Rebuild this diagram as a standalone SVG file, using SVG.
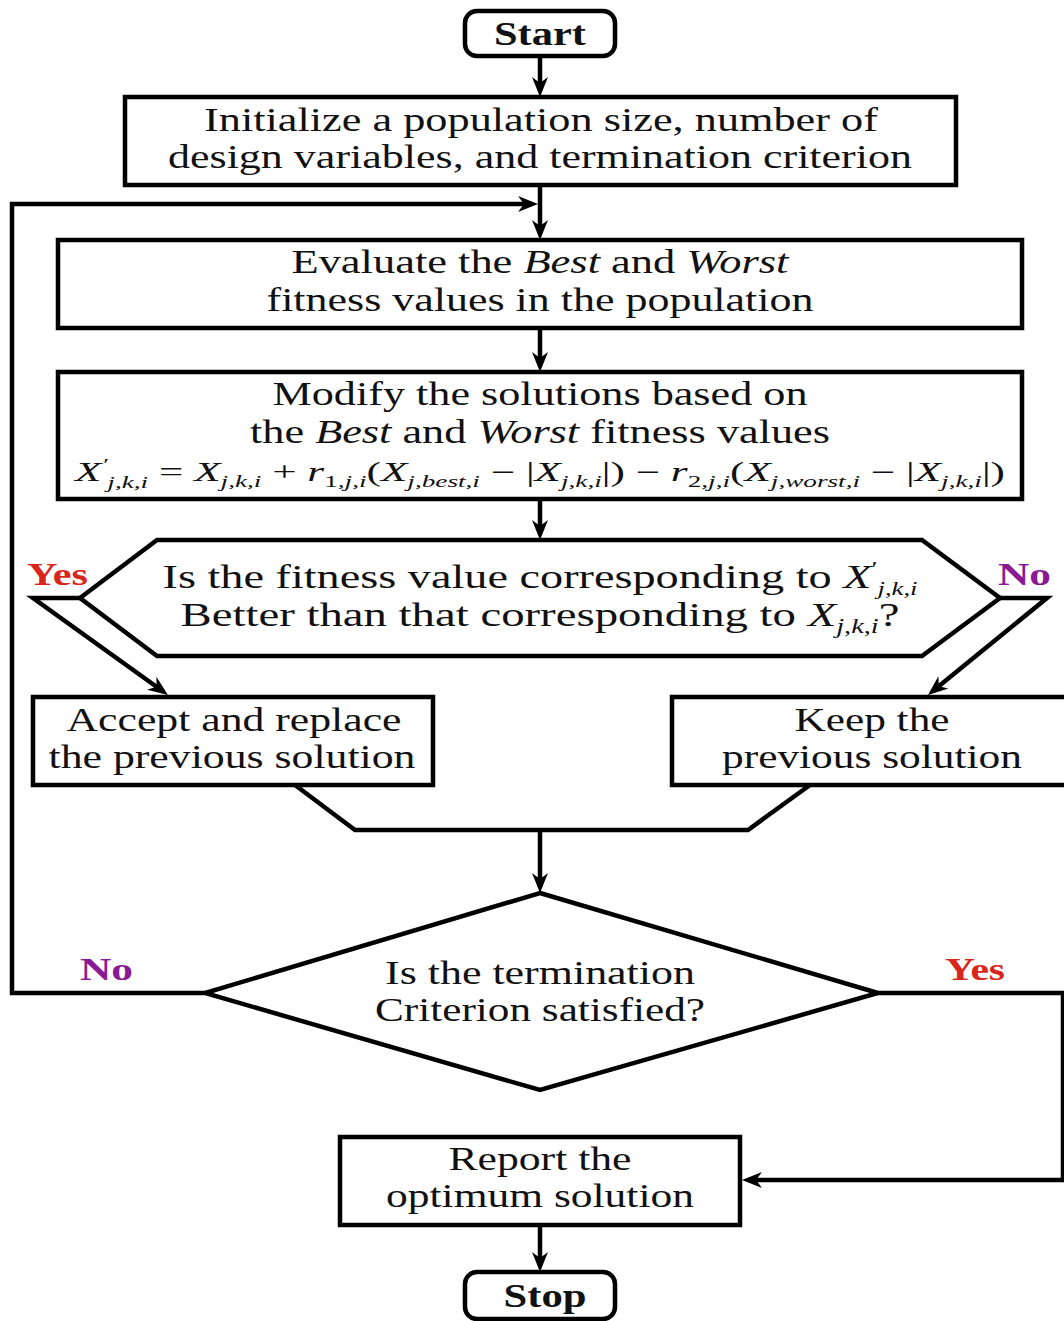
<svg xmlns="http://www.w3.org/2000/svg" width="1064" height="1321" viewBox="0 0 1064 1321">
  <style>
    .box { fill: #ffffff; stroke: #000000; stroke-width: 4.5; }
    .link { fill: none; stroke: #000000; stroke-width: 4.5; stroke-linejoin: miter; }
    .t { font-family: "Liberation Serif", "Times New Roman", serif; font-size: 33px; fill: #111111; text-anchor: middle; }
    .term { font-family: "Liberation Serif", "Times New Roman", serif; font-size: 33px; font-weight: bold; fill: #111111; text-anchor: middle; }
    .m { font-family: "Liberation Serif", "Times New Roman", serif; font-style: italic; fill: #111111; }
    .it { font-style: italic; }
    .yes { font-family: "Liberation Serif", "Times New Roman", serif; font-size: 31px; font-weight: bold; fill: #d9261c; }
    .no { font-family: "Liberation Serif", "Times New Roman", serif; font-size: 31px; font-weight: bold; fill: #8a1a94; }
  </style>
  <defs>
    <marker id="arrow" markerUnits="userSpaceOnUse" viewBox="0 0 20 20" refX="14" refY="10" markerWidth="20" markerHeight="20" orient="auto">
      <path d="M0,2 L20,10 L0,18 L6,10 Z" fill="#000000"/>
    </marker>
  </defs>

  <rect width="1064" height="1321" fill="#ffffff"/>

  <!-- connectors -->
  <g id="connectors">
    <path class="link" d="M540,56 V91" marker-end="url(#arrow)"/>
    <path class="link" d="M540,185 V234" marker-end="url(#arrow)"/>
    <path class="link" d="M205,993 H12 V204 H532" marker-end="url(#arrow)"/>
    <path class="link" d="M540,328 V366" marker-end="url(#arrow)"/>
    <path class="link" d="M540,499 V534" marker-end="url(#arrow)"/>
    <path class="link" d="M80,598 H33 L163.1,691.5" marker-end="url(#arrow)"/>
    <path class="link" d="M1000,598 H1047 L932.6,691.2" marker-end="url(#arrow)"/>
    <path class="link" d="M295,785 L355,830 H748 L810,785"/>
    <path class="link" d="M540,830 V887" marker-end="url(#arrow)"/>
    <path class="link" d="M878,993 H1063 V1180 H748" marker-end="url(#arrow)"/>
    <path class="link" d="M540,1225 V1266" marker-end="url(#arrow)"/>
  </g>

  <!-- branch labels -->
  <g id="labels">
    <text class="yes" x="27" y="585" textLength="61" lengthAdjust="spacingAndGlyphs">Yes</text>
    <text class="no" x="998" y="585" textLength="53" lengthAdjust="spacingAndGlyphs">No</text>
    <text class="no" x="80" y="980" textLength="53" lengthAdjust="spacingAndGlyphs">No</text>
    <text class="yes" x="945" y="980" textLength="60" lengthAdjust="spacingAndGlyphs">Yes</text>
  </g>

  <g id="start">
    <rect class="box" x="465" y="11" width="150" height="45" rx="12"/>
    <text class="term" x="540" y="45" textLength="92" lengthAdjust="spacingAndGlyphs">Start</text>
  </g>

  <g id="initialize">
    <rect class="box" x="125" y="97" width="831" height="88"/>
    <text class="t" x="541" y="131" textLength="674" lengthAdjust="spacingAndGlyphs">Initialize a population size, number of</text>
    <text class="t" x="540" y="168" textLength="744" lengthAdjust="spacingAndGlyphs">design variables, and termination criterion</text>
  </g>

  <g id="evaluate">
    <rect class="box" x="58" y="240" width="964" height="88"/>
    <text class="t" x="540" y="273" textLength="497" lengthAdjust="spacingAndGlyphs">Evaluate the <tspan class="it">Best</tspan> and <tspan class="it">Worst</tspan></text>
    <text class="t" x="540" y="311" textLength="547" lengthAdjust="spacingAndGlyphs">fitness values in the population</text>
  </g>

  <g id="modify">
    <rect class="box" x="58" y="372" width="964" height="127"/>
    <text class="t" x="540" y="405" textLength="535" lengthAdjust="spacingAndGlyphs">Modify the solutions based on</text>
    <text class="t" x="540" y="443" textLength="580" lengthAdjust="spacingAndGlyphs">the <tspan class="it">Best</tspan> and <tspan class="it">Worst</tspan> fitness values</text>
    <text class="m" x="75" y="481" font-size="27" textLength="930" lengthAdjust="spacingAndGlyphs">X<tspan font-size="17" dy="-11">′</tspan><tspan font-size="17" dy="18">j,k,i</tspan><tspan dy="-7" font-style="normal"> = </tspan>X<tspan font-size="17" dy="6">j,k,i</tspan><tspan dy="-6" font-style="normal"> + </tspan>r<tspan font-size="17" dy="6"><tspan font-style="normal">1</tspan>,j,i</tspan><tspan dy="-6" font-style="normal">(</tspan>X<tspan font-size="17" dy="6">j,best,i</tspan><tspan dy="-6" font-style="normal"> − |</tspan>X<tspan font-size="17" dy="6">j,k,i</tspan><tspan dy="-6" font-style="normal">|) − </tspan>r<tspan font-size="17" dy="6"><tspan font-style="normal">2</tspan>,j,i</tspan><tspan dy="-6" font-style="normal">(</tspan>X<tspan font-size="17" dy="6">j,worst,i</tspan><tspan dy="-6" font-style="normal"> − |</tspan>X<tspan font-size="17" dy="6">j,k,i</tspan><tspan dy="-6" font-style="normal">|)</tspan></text>
  </g>

  <g id="compare">
    <polygon class="box" points="80,598 157,540 922,540 1000,598 922,656 157,656"/>
    <text class="t" x="540" y="588" textLength="755" lengthAdjust="spacingAndGlyphs">Is the fitness value corresponding to <tspan class="it">X</tspan><tspan font-size="20" dy="-12">′</tspan><tspan class="it" font-size="19" dy="19">j,k,i</tspan></text>
    <text class="t" x="540" y="626" textLength="719" lengthAdjust="spacingAndGlyphs">Better than that corresponding to <tspan class="it">X</tspan><tspan class="it" font-size="20" dy="7">j,k,i</tspan><tspan dy="-7">?</tspan></text>
  </g>

  <g id="accept">
    <rect class="box" x="33" y="697" width="400" height="88"/>
    <text class="t" x="234" y="731" textLength="335" lengthAdjust="spacingAndGlyphs">Accept and replace</text>
    <text class="t" x="232" y="768" textLength="367" lengthAdjust="spacingAndGlyphs">the previous solution</text>
  </g>

  <g id="keep">
    <rect class="box" x="672" y="697" width="400" height="88"/>
    <text class="t" x="872" y="731" textLength="155" lengthAdjust="spacingAndGlyphs">Keep the</text>
    <text class="t" x="872" y="768" textLength="300" lengthAdjust="spacingAndGlyphs">previous solution</text>
  </g>

  <g id="termination">
    <polygon class="box" points="540,893 878,993 540,1090 205,993"/>
    <text class="t" x="540" y="984" textLength="310" lengthAdjust="spacingAndGlyphs">Is the termination</text>
    <text class="t" x="540" y="1021" textLength="330" lengthAdjust="spacingAndGlyphs">Criterion satisfied?</text>
  </g>

  <g id="report">
    <rect class="box" x="340" y="1137" width="400" height="88"/>
    <text class="t" x="540" y="1170" textLength="183" lengthAdjust="spacingAndGlyphs">Report the</text>
    <text class="t" x="540" y="1207" textLength="308" lengthAdjust="spacingAndGlyphs">optimum solution</text>
  </g>

  <g id="stop">
    <rect class="box" x="465" y="1272" width="150" height="47" rx="12"/>
    <text class="term" x="545" y="1307" textLength="83" lengthAdjust="spacingAndGlyphs">Stop</text>
  </g>
</svg>
